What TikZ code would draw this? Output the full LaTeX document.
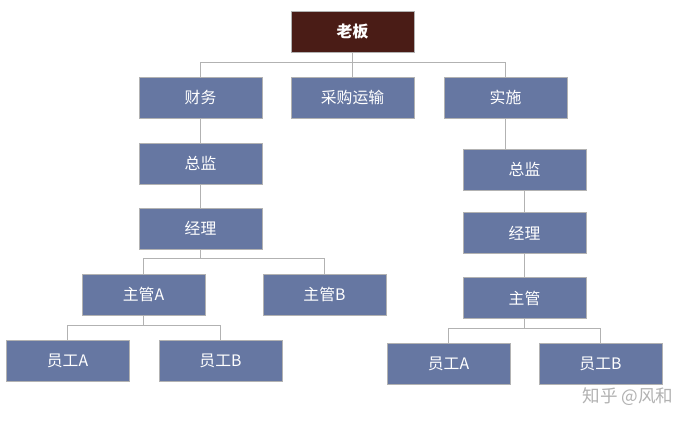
\documentclass[tikz,border=0pt]{standalone}
\usepackage{fontspec}
\setmainfont{Noto Sans CJK SC}
\definecolor{boxblue}{HTML}{6677A2}
\definecolor{boxbrown}{HTML}{4A1C16}
\tikzset{
  post/.style={rectangle,draw=gray!60,fill=boxblue,text=white,minimum width=2.46cm,minimum height=0.82cm,font=\small,inner sep=0pt},
  head/.style={post,fill=boxbrown,font=\small\bfseries},
  link/.style={draw=gray!60,line width=0.6pt}
}
\begin{document}
\begin{tikzpicture}[x=0.02cm,y=-0.02cm]
	\useasboundingbox[fill=white] (0,0) rectangle (700,426);
	% top rows
	\node [head] (boss) at (352.5,32) {老板};
	\node [post] (cw) at (200.5,97.5) {财务};
	\node [post] (cg) at (352.5,97.5) {采购运输};
	\node [post] (ss) at (505.5,97.5) {实施};
	% left branch
	\node [post] (zjL) at (200.5,163.5) {总监};
	\node [post] (jlL) at (200.5,228.5) {经理};
	\node [post] (zgA) at (143.5,294.5) {主管A};
	\node [post] (zgB) at (324.5,294.5) {主管B};
	\node [post] (ygAL) at (67.5,360.5) {员工A};
	\node [post] (ygBL) at (220.5,360.5) {员工B};
	% right branch
	\node [post] (zjR) at (524.5,169.5) {总监};
	\node [post] (jlR) at (524.5,233) {经理};
	\node [post] (zgR) at (524.5,298) {主管};
	\node [post] (ygAR) at (448.5,364) {员工A};
	\node [post] (ygBR) at (600.5,364) {员工B};
	% connectors
	\draw [link] (boss.south) -- ++(0,10) -| (cw.north);
	\draw [link] (boss.south) -- (cg.north);
	\draw [link] (boss.south) -- ++(0,10) -| (ss.north);
	\draw [link] (cw) -- (zjL) -- (jlL);
	\draw [link] (jlL.south) -- ++(0,9) -| (zgA.north);
	\draw [link] (jlL.south) -- ++(0,9) -| (zgB.north);
	\draw [link] (zgA.south) -- ++(0,10) -| (ygAL.north);
	\draw [link] (zgA.south) -- ++(0,10) -| (ygBL.north);
	\draw [link] (ss.south) -- (ss.south |- zjR.north);
	\draw [link] (zjR) -- (jlR) -- (zgR);
	\draw [link] (zgR.south) -- ++(0,10) -| (ygAR.north);
	\draw [link] (zgR.south) -- ++(0,10) -| (ygBR.north);
	\node [text=gray!60,font=\normalsize] (mark) at (628,397) {知乎 @风和};
\end{tikzpicture}
\end{document}
